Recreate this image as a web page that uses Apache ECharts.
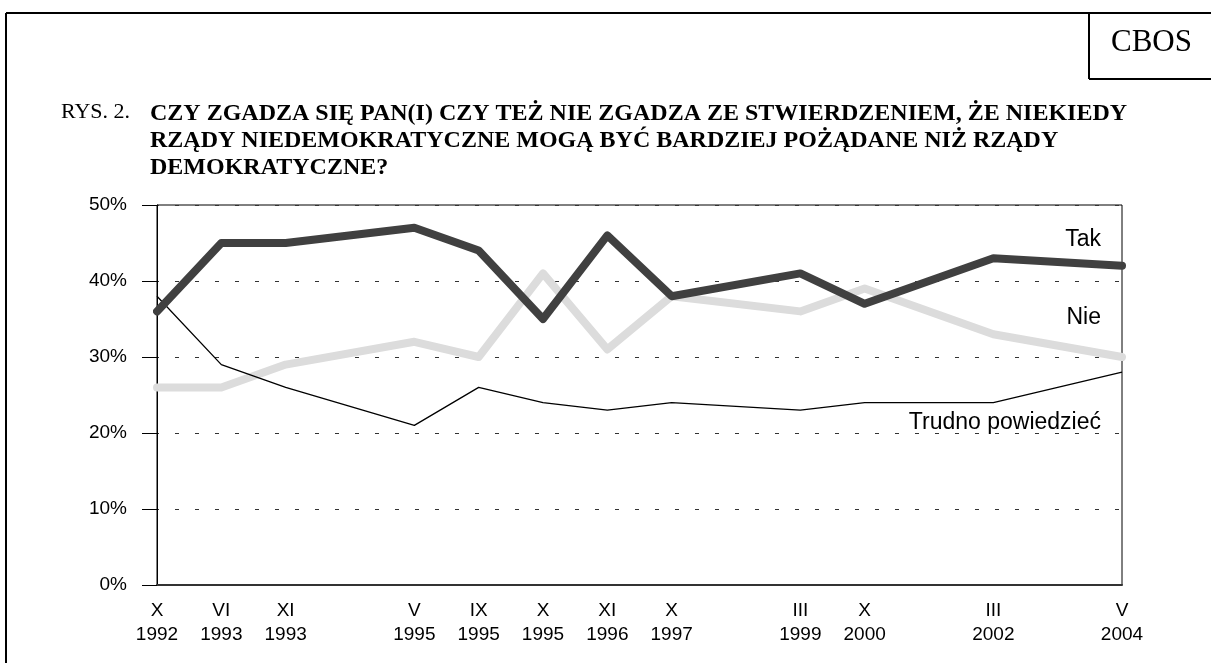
<!DOCTYPE html>
<html>
<head>
<meta charset="utf-8">
<script src="https://cdn.jsdelivr.net/npm/echarts@6/dist/echarts.min.js"></script>
<style>
  html, body { margin: 0; padding: 0; background: #fff; }
  #rys2 { width: 1211px; height: 663px; }
</style>
</head>
<body>
<div id="rys2"></div>
<script>
// okresy badań (puste miejsca = przerwy na osi)
var periods = ['X\n1992', 'VI\n1993', 'XI\n1993', '', 'V\n1995', 'IX\n1995', 'X\n1995', 'XI\n1996',
  'X\n1997', '', 'III\n1999', 'X\n2000', '', 'III\n2002', '', 'V\n2004']
var tak = [36, 45, 45, null, 47, 44, 35, 46, 38, null, 41, 37, null, 43, null, 42]
var nie = [26, 26, 29, null, 32, 30, 41, 31, 38, null, 36, 39, null, 33, null, 30]
var trudno = [38, 29, 26, null, 21, 26, 24, 23, 24, null, 23, 24, null, 24, null, 28]
var yTicks = [0, 10, 20, 30, 40, 50]

var myChart = echarts.init(document.getElementById('rys2'))
var sans = 'Liberation Sans, Arial, sans-serif'
var serif = 'Liberation Serif, Times New Roman, serif'

var option = {
  animation: false,
  backgroundColor: '#fff',
  grid: {
    left: 157,
    right: 89,
    top: 205,
    bottom: 78,
    show: true,
    borderColor: '#000',
    borderWidth: 1
  },
  xAxis: {
    type: 'category',
    data: periods,
    boundaryGap: false,
    axisLine: { lineStyle: { color: '#333', width: 2 } },
    axisTick: { show: false },
    axisLabel: {
      color: '#000',
      fontFamily: sans,
      fontSize: 19,
      lineHeight: 24,
      margin: 14,
      interval: 0
    },
    splitLine: { show: false }
  },
  yAxis: {
    type: 'value',
    min: yTicks[0],
    max: yTicks[yTicks.length - 1],
    interval: 10,
    axisLine: { show: true, lineStyle: { color: '#000', width: 1 } },
    axisTick: { show: true, length: 15, lineStyle: { color: '#000' } },
    axisLabel: {
      color: '#000',
      fontFamily: sans,
      fontSize: 19,
      margin: 30,
      formatter: '{value}%'
    },
    splitLine: {
      show: true,
      lineStyle: { color: '#333', width: 1, type: [4, 16], dashOffset: -18 }
    }
  },
  series: [
    {
      name: 'Trudno powiedzieć',
      type: 'line',
      data: trudno,
      connectNulls: true,
      symbol: 'none',
      lineStyle: { color: '#000', width: 1.3 },
      endLabel: {
        show: true, formatter: '{a}', color: '#000', fontFamily: sans, fontSize: 23,
        align: 'right', verticalAlign: 'middle', offset: [-29, 50]
      },
      z: 3
    },
    {
      name: 'Nie',
      type: 'line',
      data: nie,
      connectNulls: true,
      symbol: 'none',
      lineStyle: { color: '#dcdcdc', width: 8, cap: 'round', join: 'round' },
      endLabel: {
        show: true, formatter: '{a}', color: '#000', fontFamily: sans, fontSize: 23,
        align: 'right', verticalAlign: 'middle', offset: [-29, -39]
      },
      z: 2
    },
    {
      name: 'Tak',
      type: 'line',
      data: tak,
      connectNulls: true,
      symbol: 'none',
      lineStyle: { color: '#404040', width: 8, cap: 'round', join: 'round' },
      endLabel: {
        show: true, formatter: '{a}', color: '#000', fontFamily: sans, fontSize: 23,
        align: 'right', verticalAlign: 'middle', offset: [-29, -26]
      },
      z: 4
    }
  ],
  graphic: [
    // ramka strony
    { type: 'line', shape: { x1: 6, y1: 13, x2: 1211, y2: 13 }, style: { stroke: '#000', lineWidth: 2 } },
    { type: 'line', shape: { x1: 6, y1: 13, x2: 6, y2: 663 }, style: { stroke: '#000', lineWidth: 2 } },
    { type: 'line', shape: { x1: 1089, y1: 13, x2: 1089, y2: 79 }, style: { stroke: '#000', lineWidth: 2 } },
    { type: 'line', shape: { x1: 1089, y1: 79, x2: 1211, y2: 79 }, style: { stroke: '#000', lineWidth: 2 } },
    {
      type: 'text', left: 1111, top: 27,
      style: { text: 'CBOS', font: '31px ' + serif, fill: '#000' }
    },
    // tytuł
    {
      type: 'text', left: 61, top: 101,
      style: { text: 'RYS. 2.', font: '22px ' + serif, fill: '#000' }
    },
    {
      type: 'text', left: 150, top: 100,
      style: {
        text: 'CZY ZGADZA SIĘ PAN(I) CZY TEŻ NIE ZGADZA ZE STWIERDZENIEM, ŻE NIEKIEDY\n' +
          'RZĄDY NIEDEMOKRATYCZNE MOGĄ BYĆ BARDZIEJ POŻĄDANE NIŻ RZĄDY\n' +
          'DEMOKRATYCZNE?',
        font: 'bold 24px ' + serif,
        lineHeight: 27,
        fill: '#000'
      }
    }
  ]
}
myChart.setOption(option)
</script>
</body>
</html>
